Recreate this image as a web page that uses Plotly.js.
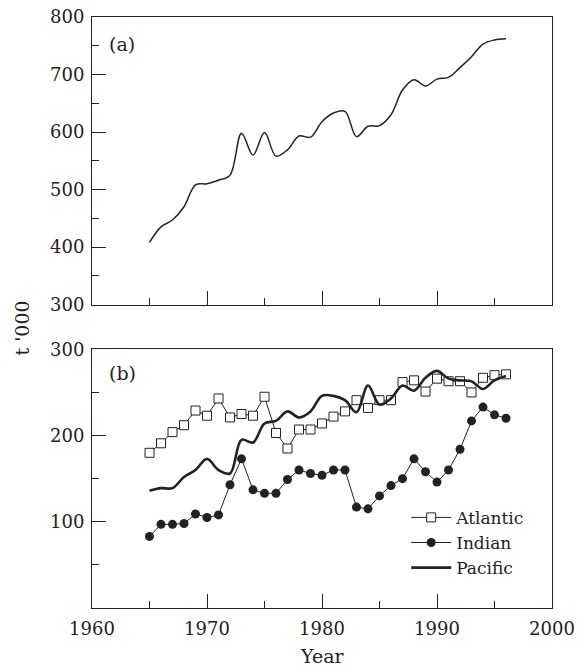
<!DOCTYPE html>
<html>
<head>
<meta charset="utf-8">
<script src="https://cdn.plot.ly/plotly-3.0.1.min.js"></script>
<style>html,body{margin:0;padding:0;background:#fff;}#chart{width:578px;height:667px;}</style>
</head>
<body>
<div id="chart"></div>
<script>
var years = [1965,1966,1967,1968,1969,1970,1971,1972,1973,1974,1975,1976,1977,1978,1979,1980,1981,1982,1983,1984,1985,1986,1987,1988,1989,1990,1991,1992,1993,1994,1995,1996];
var totalCatch = [408,435,447,470,508,510,516,525,598,560,599,558,569,593,591,618,633,636,592,610,611,630,673,691,680,692,695,712,731,753,760,762];
var atlantic = [180,191,204,212,229,223,243,221,225,223,245,203,185,207,207,214,222,228,241,232,241,241,262,264,251,266,263,263,250,267,270,271];
var indian = [83,97,97,98,109,105,108,143,173,137,133,133,149,160,156,154,160,160,117,115,130,142,150,173,158,146,160,184,217,233,224,220];
var pacific = [136,139,139,152,160,173,160,156,195,192,214,217,228,221,228,246,246,241,227,258,236,243,258,252,267,275,266,264,263,254,264,269];
var xTicks = [1960,1970,1980,1990,2000];
var yTicksA = [300,400,500,600,700,800];
var yTicksB = [100,200,300];

var ink = '#222';
var fnt = {family: 'DejaVu Serif, serif', size: 18, color: ink};

var traces = [
  {x: years, y: totalCatch, xaxis: 'x', yaxis: 'y', mode: 'lines', showlegend: false,
   line: {color: ink, width: 1.5, shape: 'spline', smoothing: 1}},
  {x: years, y: atlantic, xaxis: 'x2', yaxis: 'y2', mode: 'lines+markers', name: 'Atlantic',
   line: {color: ink, width: 1}, marker: {symbol: 'square', size: 9, color: '#fff', line: {width: 1, color: ink}}},
  {x: years, y: indian, xaxis: 'x2', yaxis: 'y2', mode: 'lines+markers', name: 'Indian',
   line: {color: ink, width: 1}, marker: {symbol: 'circle', size: 9, color: ink}},
  {x: years, y: pacific, xaxis: 'x2', yaxis: 'y2', mode: 'lines', name: 'Pacific',
   line: {color: ink, width: 2.6, shape: 'spline', smoothing: 1}}
];

function xax(showLabels, anchor) {
  return {range: [1960, 2000], anchor: anchor, tickvals: xTicks,
    showticklabels: showLabels, ticks: 'inside', ticklen: 14, tickwidth: 1, tickcolor: ink,
    minor: {tickvals: [1965,1975,1985,1995], ticks: 'inside', ticklen: 7, tickwidth: 1, tickcolor: ink},
    showline: true, linecolor: ink, linewidth: 1, mirror: true, showgrid: false, zeroline: false,
    tickfont: fnt, ticklabelstandoff: 4};
}
function yax(range, vals, minorVals, domain, anchor) {
  return {range: range, domain: domain, anchor: anchor, tickvals: vals, ticks: 'inside', ticklen: 14, tickwidth: 1, tickcolor: ink,
    minor: {tickvals: minorVals, ticks: 'inside', ticklen: 7, tickwidth: 1, tickcolor: ink},
    showline: true, linecolor: ink, linewidth: 1, mirror: true, showgrid: false, zeroline: false,
    tickfont: fnt, ticklabelstandoff: 3};
}

var layout = {
  width: 578, height: 667,
  margin: {l: 92, r: 26, t: 17, b: 59},
  paper_bgcolor: '#fff', plot_bgcolor: '#fff',
  font: fnt,
  xaxis: xax(false, 'y'),
  yaxis: yax([300, 800], yTicksA, [350,450,550,650,750], [0.5135, 1], 'x'),
  xaxis2: xax(true, 'y2'),
  yaxis2: yax([0, 300], yTicksB, [50,150,250], [0, 0.4377], 'x2'),
  legend: {x: 0.683, y: 0.183, xanchor: 'left', yanchor: 'top', bgcolor: 'rgba(0,0,0,0)',
    font: {family: 'DejaVu Serif, serif', size: 17, color: ink}, tracegroupgap: 0, itemwidth: 40},
  annotations: [
    {text: '(a)', xref: 'paper', yref: 'paper', x: 0.032, y: 0.955, xanchor: 'left', yanchor: 'middle', showarrow: false,
     font: {family: 'DejaVu Serif, serif', size: 19, color: ink}},
    {text: '(b)', xref: 'paper', yref: 'paper', x: 0.032, y: 0.397, xanchor: 'left', yanchor: 'middle', showarrow: false,
     font: {family: 'DejaVu Serif, serif', size: 19, color: ink}},
    {text: "t '000", xref: 'paper', yref: 'paper', x: -0.152, y: 0.473, xanchor: 'center', yanchor: 'middle', textangle: -90, showarrow: false,
     font: {family: 'DejaVu Serif, serif', size: 19, color: ink}},
    {text: 'Year', xref: 'paper', yref: 'paper', x: 0.5, y: -0.081, xanchor: 'center', yanchor: 'middle', showarrow: false,
     font: {family: 'DejaVu Serif, serif', size: 19, color: ink}}
  ]
};

Plotly.newPlot('chart', traces, layout, {displayModeBar: false, staticPlot: true});
</script>
</body>
</html>
